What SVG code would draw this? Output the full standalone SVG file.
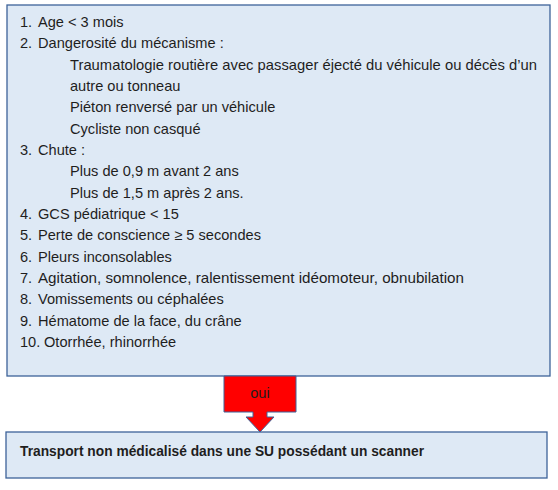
<svg xmlns="http://www.w3.org/2000/svg" width="558" height="490" viewBox="0 0 558 490">
<style>
.box{fill:#dee9f5;stroke:#3d6399;stroke-width:1.3}
text{font-family:"Liberation Sans",Arial,sans-serif;font-size:14.6px;fill:#1e1e1e}
.b{font-weight:bold;font-size:14.4px}
</style>
<rect width="558" height="490" fill="#fff"/>
<g id="criteria">
<rect class="box" x="7" y="5" width="543" height="371"/>
<text x="20" y="27">1.</text><text x="38" y="27">Age &lt; 3 mois</text>
<text x="20" y="48.3">2.</text><text x="38" y="48.3">Dangerosité du mécanisme :</text>
<text x="70" y="69.7" textLength="467" lengthAdjust="spacingAndGlyphs">Traumatologie routière avec passager éjecté du véhicule ou décès d’un</text>
<text x="70" y="91">autre ou tonneau</text>
<text x="70" y="112.3">Piéton renversé par un véhicule</text>
<text x="70" y="133.7">Cycliste non casqué</text>
<text x="20" y="155">3.</text><text x="38" y="155">Chute :</text>
<text x="70" y="176.3">Plus de 0,9 m avant 2 ans</text>
<text x="70" y="197.7">Plus de 1,5 m après 2 ans.</text>
<text x="20" y="219">4.</text><text x="38" y="219">GCS pédiatrique &lt; 15</text>
<text x="20" y="240.3">5.</text><text x="38" y="240.3">Perte de conscience ≥ 5 secondes</text>
<text x="20" y="261.7">6.</text><text x="38" y="261.7">Pleurs inconsolables</text>
<text x="20" y="283">7.</text><text x="38" y="283" textLength="426" lengthAdjust="spacingAndGlyphs">Agitation, somnolence, ralentissement idéomoteur, obnubilation</text>
<text x="20" y="304.3">8.</text><text x="38" y="304.3">Vomissements ou céphalées</text>
<text x="20" y="325.7">9.</text><text x="38" y="325.7">Hématome de la face, du crâne</text>
<text x="20" y="347">10.</text><text x="44" y="347">Otorrhée, rhinorrhée</text>
</g>
<g id="connectors">
<g id="oui">
<path d="M224,376 H296 V412 H267 V417 H274 L260,432 L246,417 H253 V412 H224 Z" fill="#ff0000" stroke="#3d6399" stroke-width="1"/>
<text x="260" y="398" text-anchor="middle">oui</text>
</g>
</g>
<g id="transport">
<rect class="box" x="6" y="432" width="541" height="46"/>
<text class="b" x="20" y="456" textLength="404" lengthAdjust="spacingAndGlyphs">Transport non médicalisé dans une SU possédant un scanner</text>
</g>
</svg>
